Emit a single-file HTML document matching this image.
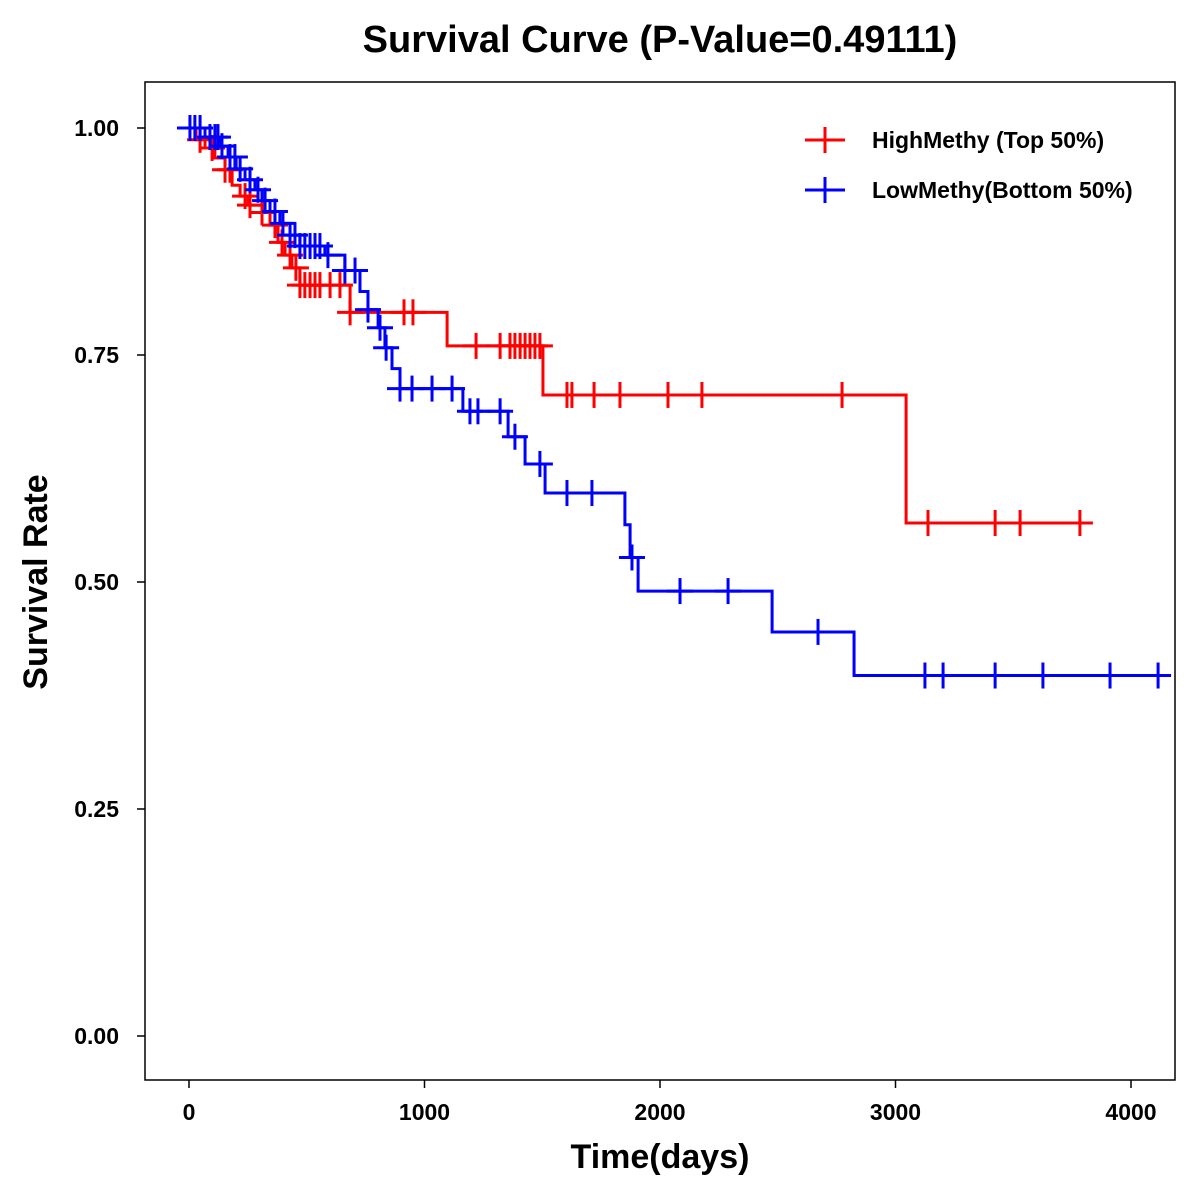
<!DOCTYPE html>
<html><head><meta charset="utf-8"><style>
body{margin:0;background:#fff}
svg{display:block;font-family:"Liberation Sans",Arial,sans-serif;font-weight:bold}
</style></head><body>
<svg id="chart" width="1200" height="1200">
<rect x="0" y="0" width="1200" height="1200" fill="#fff"/>
<text x="660" y="52" font-size="38" text-anchor="middle">Survival Curve (P-Value=0.49111)</text>
<rect x="145" y="82" width="1030" height="998" fill="none" stroke="#000" stroke-width="1.5"/>
<g id="xaxis"></g>
<g id="yaxis"></g>
<text x="660" y="1168" font-size="34" text-anchor="middle">Time(days)</text>
<text transform="translate(47,582) rotate(-90)" font-size="34" text-anchor="middle">Survival Rate</text>
<g id="series"></g>
<g>
<g>
<line x1="805" y1="140" x2="845" y2="140" stroke="#f00" stroke-width="3"/>
<line x1="825" y1="127" x2="825" y2="153" stroke="#f00" stroke-width="3"/>
<text x="872" y="148" font-size="23">HighMethy (Top 50%)</text></g>
<g>
<line x1="805" y1="190" x2="845" y2="190" stroke="#00f" stroke-width="3"/>
<line x1="825" y1="177" x2="825" y2="203" stroke="#00f" stroke-width="3"/>
<text x="872" y="198" font-size="23">LowMethy(Bottom 50%)</text></g>
</g>
</svg>
<script>
const xTicks=[0,1000,2000,3000,4000];
const yTicks=[0,0.25,0.5,0.75,1.0];
const yTickLabels=["0.00","0.25","0.50","0.75","1.00"];
const highTimes=[0,30,68,110,153,183,217,251,310,344,378,408,437,471,684,1096,1503,3045];
const highSurv=[1.0,0.987,0.978,0.967,0.954,0.937,0.925,0.915,0.907,0.893,0.874,0.860,0.846,0.827,0.797,0.760,0.706,0.565];
const highEnd=3800;
const highCensor=[47,98,153,174,238,259,310,365,395,429,454,471,492,514,535,556,599,641,684,913,951,1219,1321,1363,1384,1406,1427,1448,1469,1490,1605,1626,1720,1830,2034,2178,2773,3138,3423,3529,3783];
const lowTimes=[0,68,132,166,200,238,280,310,344,386,429,471,577,662,726,760,803,832,862,896,1163,1355,1427,1512,1851,1873,1907,2476,2824];
const lowSurv=[1.0,0.99,0.98,0.968,0.955,0.943,0.932,0.92,0.908,0.895,0.882,0.87,0.86,0.843,0.82,0.80,0.78,0.758,0.735,0.713,0.688,0.66,0.63,0.598,0.563,0.527,0.49,0.445,0.397];
const lowEnd=4166;
const lowCensor=[4,25,47,89,110,123,140,174,195,217,259,293,323,365,399,429,450,471,492,514,535,556,590,662,705,760,811,837,896,947,1032,1117,1193,1227,1321,1384,1490,1605,1711,1881,2085,2289,2671,3125,3202,3423,3626,3911,4115];

const NS="http://www.w3.org/2000/svg";
const X=d=>189+d*0.2355;
const Y=s=>1036-s*908;
function mk(tag,attrs,parent){const e=document.createElementNS(NS,tag);for(const k in attrs)e.setAttribute(k,attrs[k]);parent.appendChild(e);return e;}
const xa=document.getElementById('xaxis'),ya=document.getElementById('yaxis'),sg=document.getElementById('series');
xTicks.forEach(t=>{
  const l=mk('line',{x1:X(t),x2:X(t),y1:1080,y2:1088,stroke:'#000','stroke-width':1.5},xa);
  
  
  const tx=mk('text',{x:X(t),y:1120,'font-size':23,'text-anchor':'middle'},xa);
  tx.textContent=t;
  
  
});
yTicks.forEach((t,i)=>{
  const l=mk('line',{x1:137,x2:145,y1:Y(t),y2:Y(t),stroke:'#000','stroke-width':1.5},ya);
  
  
  const tx=mk('text',{x:119,y:Y(t)+8,'font-size':23,'text-anchor':'end'},ya);
  tx.textContent=yTickLabels[i];
  
  
});
function survAt(times,surv,t){let s=surv[0];for(let i=0;i<times.length;i++){if(times[i]<=t)s=surv[i];}return s;}
function draw(times,surv,end,cens,color,name){
  let d='M'+X(times[0])+','+Y(surv[0]);
  for(let i=1;i<times.length;i++){d+=' H'+X(times[i])+' V'+Y(surv[i]);}
  d+=' H'+X(end);
  const p=mk('path',{d:d,fill:'none',stroke:color,'stroke-width':3},sg);
  
  
  cens.forEach(c=>{
    const s=survAt(times,surv,c);
    const g=mk('g',{},sg);
    
    
    mk('line',{x1:X(c)-13,x2:X(c)+13,y1:Y(s),y2:Y(s),stroke:color,'stroke-width':3},g);
    mk('line',{x1:X(c),x2:X(c),y1:Y(s)-13,y2:Y(s)+13,stroke:color,'stroke-width':3},g);
  });
}
draw(highTimes,highSurv,highEnd,highCensor,'#f00','high-methy');
draw(lowTimes,lowSurv,lowEnd,lowCensor,'#00f','low-methy');
</script>
</body></html>
